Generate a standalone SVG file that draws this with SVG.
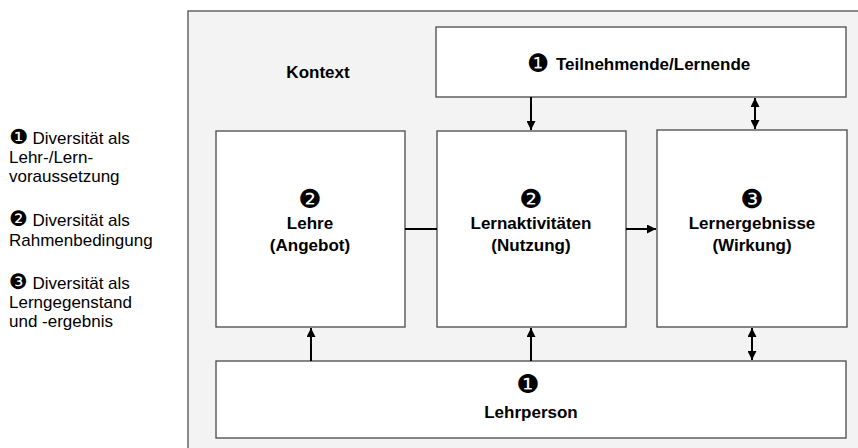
<svg xmlns="http://www.w3.org/2000/svg" width="858" height="448" viewBox="0 0 858 448">
<defs>
<marker id="ah" viewBox="0 0 10 10" refX="10" refY="5" markerWidth="9" markerHeight="9" markerUnits="userSpaceOnUse" orient="auto-start-reverse">
<path d="M0,0 L10,5 L0,10 z" fill="#000"/>
</marker>
<style>
.box{fill:#fff;stroke:#555;stroke-width:1.4}
.t{font-family:"Liberation Sans",Arial,sans-serif;font-size:17px;fill:#000}
.b{font-weight:bold}
.d{font-family:"DejaVu Sans",sans-serif;fill:#000}
.c{fill:none;stroke:#000;stroke-width:2}
</style>
</defs>
<rect width="858" height="448" fill="#fff"/>
<g id="legend">
<text class="t" x="9" y="144"><tspan class="d" font-size="21">❶</tspan> Diversität als</text>
<text class="t" x="9" y="163">Lehr-/Lern-</text>
<text class="t" x="9" y="182">voraussetzung</text>
<text class="t" x="9" y="226"><tspan class="d" font-size="21">❷</tspan> Diversität als</text>
<text class="t" x="9" y="246">Rahmenbedingung</text>
<text class="t" x="9" y="289"><tspan class="d" font-size="21">❸</tspan> Diversität als</text>
<text class="t" x="9" y="308">Lerngegenstand</text>
<text class="t" x="9" y="327">und -ergebnis</text>
</g>
<g id="kontext">
<rect x="188" y="11" width="700" height="460" fill="#f3f3f3" stroke="#666" stroke-width="1.5"/>
<text class="t b" x="318" y="78" text-anchor="middle">Kontext</text>
</g>
<g id="teilnehmende">
<rect class="box" x="436" y="27" width="410" height="70"/>
<text class="d" x="527" y="72" font-size="25">❶</text>
<text class="t b" x="556" y="70">Teilnehmende/Lernende</text>
</g>
<g id="lehre">
<rect class="box" x="216" y="131" width="189" height="196"/>
<text class="d" x="310" y="208" font-size="26" text-anchor="middle">❷</text>
<text class="t b" x="310" y="229" text-anchor="middle">Lehre</text>
<text class="t b" x="310" y="251" text-anchor="middle">(Angebot)</text>
</g>
<g id="lernaktivitaeten">
<rect class="box" x="437" y="131" width="189" height="196"/>
<text class="d" x="531" y="208" font-size="26" text-anchor="middle">❷</text>
<text class="t b" x="531" y="229" text-anchor="middle">Lernaktivitäten</text>
<text class="t b" x="531" y="251" text-anchor="middle">(Nutzung)</text>
</g>
<g id="lernergebnisse">
<rect class="box" x="657" y="130" width="190" height="197"/>
<text class="d" x="752" y="208" font-size="26" text-anchor="middle">❸</text>
<text class="t b" x="752" y="229" text-anchor="middle">Lernergebnisse</text>
<text class="t b" x="752" y="251" text-anchor="middle">(Wirkung)</text>
</g>
<g id="lehrperson">
<rect class="box" x="216" y="361" width="630" height="77"/>
<text class="d" x="528" y="393" font-size="26" text-anchor="middle">❶</text>
<text class="t b" x="531" y="418" text-anchor="middle">Lehrperson</text>
</g>
<g id="connectors">
<path class="c" d="M531,97 L531,130" marker-end="url(#ah)"/>
<path class="c" d="M755,98 L755,129" marker-start="url(#ah)" marker-end="url(#ah)"/>
<path class="c" d="M405,229 L437,229"/>
<path class="c" d="M626,229 L656,229" marker-end="url(#ah)"/>
<path class="c" d="M311,361 L311,328" marker-end="url(#ah)"/>
<path class="c" d="M531,361 L531,328" marker-end="url(#ah)"/>
<path class="c" d="M752,360 L752,328" marker-start="url(#ah)" marker-end="url(#ah)"/>
</g>
</svg>
